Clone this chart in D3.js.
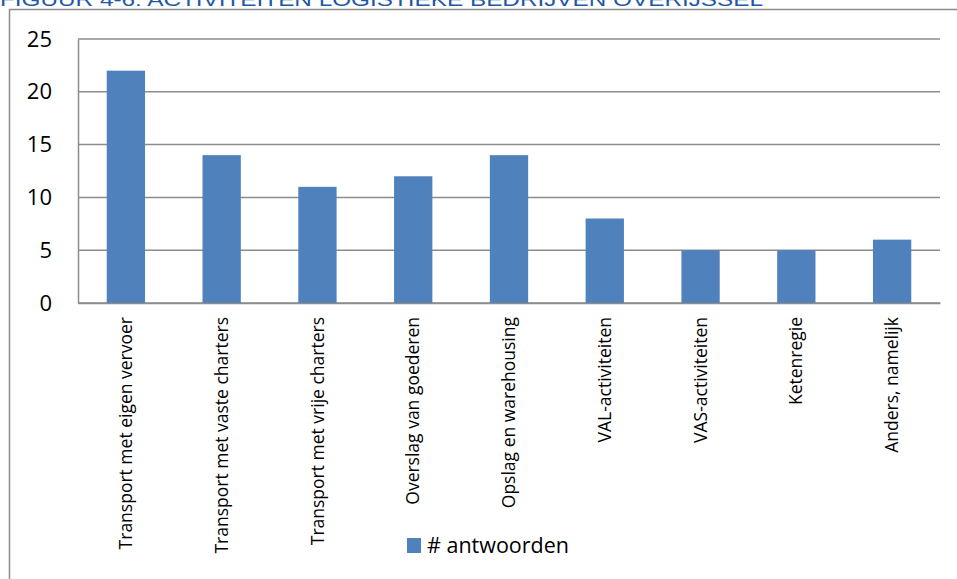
<!DOCTYPE html>
<html>
<head>
<meta charset="utf-8">
<script src="https://cdn.jsdelivr.net/npm/d3@7"></script>
<style>
  body { margin: 0; background: #fff; }
  text { font-family: "Open Sans", "Liberation Sans", sans-serif; }
</style>
</head>
<body>
<svg id="chart"></svg>
<script>
// Chart data
const categories = [
  "Transport met eigen vervoer",
  "Transport met vaste charters",
  "Transport met vrije charters",
  "Overslag van goederen",
  "Opslag en warehousing",
  "VAL-activiteiten",
  "VAS-activiteiten",
  "Ketenregie",
  "Anders, namelijk",
];
const values = [22, 14, 11, 12, 14, 8, 5, 5, 6];
const yTicks = [0, 5, 10, 15, 20, 25];
const seriesName = "# antwoorden";
const title = "FIGUUR 4-6: ACTIVITEITEN LOGISTIEKE BEDRIJVEN OVERIJSSEL";

const W = 957, H = 579;
const margin = { top: 39, right: 17, bottom: 276, left: 78 };
const width = W - margin.left - margin.right;
const height = H - margin.top - margin.bottom;

const svg = d3.select("#chart").attr("width", W).attr("height", H);

// title (sits at the very top edge, as in the source page)
svg.append("text")
  .attr("x", 0)
  .attr("y", 6)
  .attr("fill", "#1f58a6")
  .style("font-family", "'Liberation Sans', Arial, sans-serif")
  .style("font-size", "19px")
  .attr("textLength", 763)
  .attr("lengthAdjust", "spacingAndGlyphs")
  .text(title);

// outer chart border
svg.append("rect")
  .attr("x", 9.5).attr("y", 9.5)
  .attr("width", W).attr("height", H)
  .attr("fill", "none")
  .attr("stroke", "#8c8c8c")
  .attr("stroke-width", 1.5);

const g = svg.append("g")
  .attr("transform", `translate(${margin.left},${margin.top})`);

const x = d3.scaleBand().domain(categories).range([0, width]).paddingInner(0.6).paddingOuter(0.3);
const y = d3.scaleLinear().domain([0, 25]).range([height, 0]);

// gridlines
g.append("g")
  .selectAll("line")
  .data(yTicks)
  .join("line")
  .attr("x1", 0).attr("x2", width)
  .attr("y1", (d) => y(d)).attr("y2", (d) => y(d))
  .attr("stroke", "#8c8c8c")
  .attr("stroke-width", 1.5);

// bars
g.selectAll(".bar")
  .data(values)
  .join("rect")
  .attr("class", "bar")
  .attr("x", (d, i) => x(categories[i]))
  .attr("y", (d) => y(d))
  .attr("width", x.bandwidth())
  .attr("height", (d) => height - y(d))
  .attr("fill", "#4f81bd");

// y axis
const yAxis = g.append("g")
  .call(d3.axisLeft(y).tickValues(yTicks).tickSize(0).tickPadding(26));
yAxis.select(".domain").attr("stroke", "#8c8c8c").attr("stroke-width", 1.5);
yAxis.selectAll("text")
  .style("font-size", "22px")
  .attr("fill", "#000");

// x axis
const xAxis = g.append("g")
  .attr("transform", `translate(0,${height})`)
  .call(d3.axisBottom(x).tickSize(0));
xAxis.select(".domain").attr("stroke", "#8c8c8c").attr("stroke-width", 1.5);
xAxis.selectAll("text")
  .attr("transform", "rotate(-90)")
  .attr("x", -14)
  .attr("y", 0)
  .attr("dy", "0.35em")
  .style("text-anchor", "end")
  .style("font-size", "17.5px")
  .attr("fill", "#000");

// legend
const legend = svg.append("g").attr("transform", "translate(407,538)");
legend.append("rect")
  .attr("width", 14).attr("height", 15)
  .attr("fill", "#4f81bd");
legend.append("text")
  .attr("x", 20).attr("y", 15)
  .style("font-size", "21.5px")
  .attr("fill", "#000")
  .text(seriesName);
</script>
</body>
</html>
